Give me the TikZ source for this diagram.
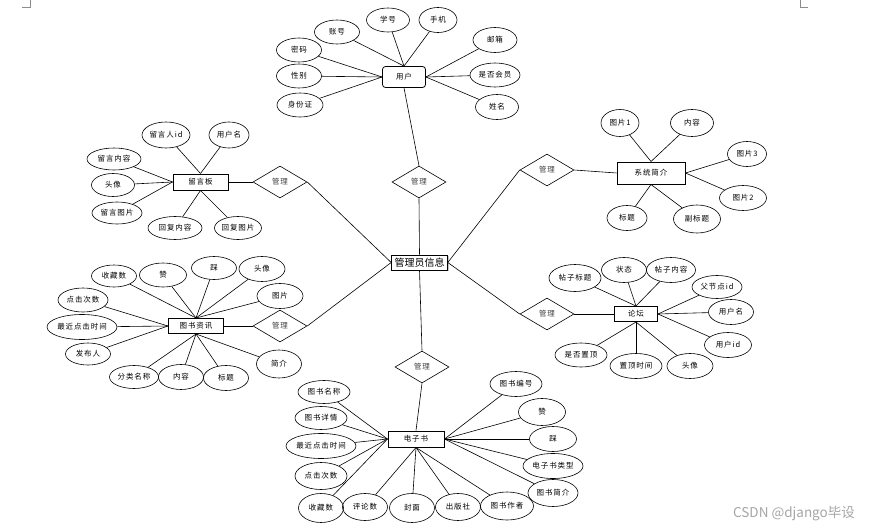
\documentclass[tikz,border=0pt]{standalone}
\usepackage{fontspec}
\usetikzlibrary{shapes.geometric,shadows}
\newfontfamily\cjk{Noto Sans CJK SC}
\newfontfamily\cjks[LetterSpace=12]{Noto Sans CJK SC}
\tikzset{
  attr/.style={ellipse, draw, line width=0.6pt, inner sep=0pt, minimum width=45pt, minimum height=24pt, font=\cjks\fontsize{7.5}{8}\selectfont},
  ent/.style={rectangle, draw, line width=1pt, inner sep=0pt, minimum width=55pt, minimum height=16pt, font=\cjks\fontsize{7.5}{8}\selectfont},
  rel/.style={diamond, draw, line width=0.6pt, inner sep=0pt, minimum width=54pt, minimum height=32pt, text=black!75, font=\cjks\fontsize{7.5}{8}\selectfont},
  conn/.style={draw, line width=0.6pt},
  corner/.style={draw=black!45, line width=0.5pt}
}
\begin{document}
\begin{tikzpicture}[x=1pt,y=-1pt]
\useasboundingbox (0,0) rectangle (871,530);
\fill[white] (0,0) rectangle (871,530);
% corner marks
\draw[corner] (22,7) -- (30,7) -- (30,0);
\draw[corner] (808,7) -- (800,7) -- (800,0);

% central entity
\node[rectangle, draw, line width=0.6pt, fill=white, minimum width=56pt, minimum height=15pt, inner sep=0pt,
      drop shadow={shadow xshift=1.2pt, shadow yshift=-1.2pt, fill=black!45},
      font=\cjk\fontsize{10}{11}\selectfont] (admin) at (419.5,262.5) {管理员信息};

% relationships
\node[rel] (r1) at (419,182) {管理};
\node[rel] (r2) at (280,182) {管理};
\node[rel] (r3) at (547,170) {管理};
\node[rel] (r4) at (280,326) {管理};
\node[rel] (r5) at (547,314) {管理};
\node[rel] (r6) at (422,367) {管理};

% ---- 用户
\node[ent, rounded corners=3pt, line width=0.8pt, minimum width=43pt, minimum height=21pt] (user) at (404,77) {用户};
\node[attr] (u1) at (337,32) {账号};
\node[attr, minimum width=43pt] (u2) at (388,20) {学号};
\node[attr, minimum width=38pt, minimum height=25pt] (u3) at (438,20) {手机};
\node[attr] (u4) at (299,50) {密码};
\node[attr] (u5) at (299,76) {性别};
\node[attr, minimum width=46pt] (u6) at (300,105) {身份证};
\node[attr, minimum width=44pt, minimum height=25pt] (u7) at (495,40) {邮箱};
\node[attr, minimum width=50pt] (u8) at (495,75) {是否会员};
\node[attr, minimum width=43pt, minimum height=25pt] (u9) at (497,107) {姓名};
\foreach \a in {u1,u2,u3} \draw[conn] (\a) -- (user.north);
\foreach \a in {u4,u5,u6} \draw[conn] (\a) -- (user.west);
\foreach \a in {u7,u8,u9} \draw[conn] (\a) -- (user.east);

% ---- 留言板
\node[ent] (lyb) at (200.5,182) {留言板};
\node[attr, minimum width=48pt, minimum height=26pt] (m1) at (166,135) {留言人id};
\node[attr, minimum width=40pt, minimum height=26pt] (m2) at (229,135) {用户名};
\node[attr, minimum width=54pt, minimum height=22pt] (m3) at (114,159) {留言内容};
\node[attr, minimum width=43pt, minimum height=23pt] (m4) at (113,185) {头像};
\node[attr, minimum width=50pt, minimum height=22pt] (m5) at (117,213) {留言图片};
\node[attr, minimum width=54pt, minimum height=23pt] (m6) at (175,228) {回复内容};
\node[attr, minimum width=47pt, minimum height=23pt] (m7) at (238,228) {回复图片};
\foreach \a in {m1,m2} \draw[conn] (\a) -- (lyb.north);
\foreach \a in {m3,m4,m5} \draw[conn] (\a) -- (lyb.west);
\foreach \a in {m6,m7} \draw[conn] (\a) -- (lyb.south);

% ---- 系统简介
\node[ent, minimum width=68pt, minimum height=22pt] (sys) at (651,173) {系统简介};
\node[attr, minimum width=38pt, minimum height=27pt] (s1) at (620,123) {图片1};
\node[attr, minimum width=43pt, minimum height=27pt] (s2) at (692,123) {内容};
\node[attr, minimum width=39pt, minimum height=25pt] (s3) at (747,154) {图片3};
\node[attr, minimum width=47pt, minimum height=25pt] (s4) at (743,198) {图片2};
\node[attr, minimum width=40pt, minimum height=25pt] (s5) at (627,218) {标题};
\node[attr, minimum width=47pt, minimum height=28pt] (s6) at (697,219) {副标题};
\foreach \a in {s1,s2} \draw[conn] (\a) -- (sys.north);
\foreach \a in {s3,s4} \draw[conn] (\a) -- (sys.east);
\foreach \a in {s5,s6} \draw[conn] (\a) -- (sys.south);

% ---- 图书资讯
\node[ent, minimum height=15pt] (bk) at (196,326) {图书资讯};
\node[attr, minimum height=22pt] (b1) at (114,276) {收藏数};
\node[attr, minimum width=47pt] (b2) at (163,275) {赞};
\node[attr, minimum height=23pt] (b3) at (214,268) {踩};
\node[attr, minimum width=46pt, minimum height=25pt] (b4) at (262,269) {头像};
\node[attr, minimum width=46pt, minimum height=25pt] (b5) at (280,296) {图片};
\node[attr, minimum width=50pt] (b6) at (83,300) {点击次数};
\node[attr, minimum width=69pt, minimum height=25pt] (b7) at (82,327) {最近点击时间};
\node[attr, minimum height=22pt] (b8) at (88,354) {发布人};
\node[attr, minimum width=49pt, minimum height=23pt] (b9) at (134,377) {分类名称};
\node[attr, minimum height=25pt] (b10) at (181,377) {内容};
\node[attr, minimum height=25pt] (b11) at (226,378) {标题};
\node[attr, minimum height=28pt] (b12) at (279,364) {简介};
\foreach \a in {b1,b2,b3,b4,b5} \draw[conn] (\a) -- (bk.north);
\foreach \a in {b6,b7,b8} \draw[conn] (\a) -- (bk.west);
\foreach \a in {b9,b10,b11,b12} \draw[conn] (\a) -- (bk.south);

% ---- 论坛
\node[ent, minimum width=43pt, minimum height=15pt] (lt) at (636,314) {论坛};
\node[attr, minimum width=52pt, minimum height=27pt] (f1) at (575,278) {帖子标题};
\node[attr, minimum height=25pt] (f2) at (624,270) {状态};
\node[attr, minimum width=49pt, minimum height=25pt] (f3) at (671,270) {帖子内容};
\node[attr, minimum width=50pt, minimum height=23pt] (f4) at (717,287) {父节点id};
\node[attr, minimum height=25pt] (f5) at (731,312) {用户名};
\node[attr, minimum width=47pt, minimum height=25pt] (f6) at (728,345) {用户id};
\node[attr, minimum width=52pt] (f7) at (581,355) {是否置顶};
\node[attr, minimum width=52pt, minimum height=25pt] (f8) at (636,366) {置顶时间};
\node[attr, minimum width=46pt, minimum height=25pt] (f9) at (690,366) {头像};
\foreach \a in {f1,f2,f3} \draw[conn] (\a) -- (lt.north);
\foreach \a in {f4,f5,f6} \draw[conn] (\a) -- (lt.east);
\foreach \a in {f7,f8,f9} \draw[conn] (\a) -- (lt.south);

% ---- 电子书
\node[ent, minimum width=56pt] (eb) at (416,439) {电子书};
\node[attr, minimum width=52pt, minimum height=23pt] (e1) at (324,392) {图书名称};
\node[attr, minimum width=52pt, minimum height=23pt] (e2) at (321,418) {图书详情};
\node[attr, minimum width=68pt, minimum height=25pt] (e3) at (321,446) {最近点击时间};
\node[attr, minimum width=52pt, minimum height=27pt] (e4) at (321,476) {点击次数};
\node[attr, minimum height=29pt] (e5) at (321,508) {收藏数};
\node[attr, minimum height=27pt] (e6) at (365,507) {评论数};
\node[attr, minimum height=29pt] (e7) at (412,508) {封面};
\node[attr, minimum height=27pt] (e8) at (458,507) {出版社};
\node[attr, minimum width=53pt, minimum height=28pt] (e9) at (507,506) {图书作者};
\node[attr, minimum width=50pt, minimum height=27pt] (e10) at (553,493) {图书简介};
\node[attr, minimum width=60pt, minimum height=25pt] (e11) at (553,466) {电子书类型};
\node[attr, minimum width=47pt, minimum height=25pt] (e12) at (553,439) {踩};
\node[attr, minimum width=47pt, minimum height=27pt] (e13) at (542,412) {赞};
\node[attr, minimum width=52pt, minimum height=25pt] (e14) at (516,384) {图书编号};
\foreach \a in {e1,e2,e3,e4,e5} \draw[conn] (\a) -- (eb.west);
\foreach \a in {e6,e7,e8,e9} \draw[conn] (\a) -- (eb.south);
\foreach \a in {e10,e11,e12,e13,e14} \draw[conn] (\a) -- (eb.east);

% ---- relationship links
\draw[conn] (user.south) -- (r1.north);
\draw[conn] (r1.south) -- (admin.north);
\draw[conn] (lyb.east) -- (r2.west);
\draw[conn] (r2.east) -- (admin.west);
\draw[conn] (r3.east) -- (sys.west);
\draw[conn] (r3.west) -- (admin.east);
\draw[conn] (bk.east) -- (r4.west);
\draw[conn] (r4.east) -- (admin.west);
\draw[conn] (r5.east) -- (lt.west);
\draw[conn] (r5.west) -- (admin.east);
\draw[conn] (admin.south) -- (r6.north);
\draw[conn] (r6.south) -- (eb.north);

% watermark
\node[text=black!35, font=\cjk\fontsize{13.5}{15}\selectfont, inner sep=0pt] (wm) at (794,514) {CSDN @django毕设};
\end{tikzpicture}
\end{document}
